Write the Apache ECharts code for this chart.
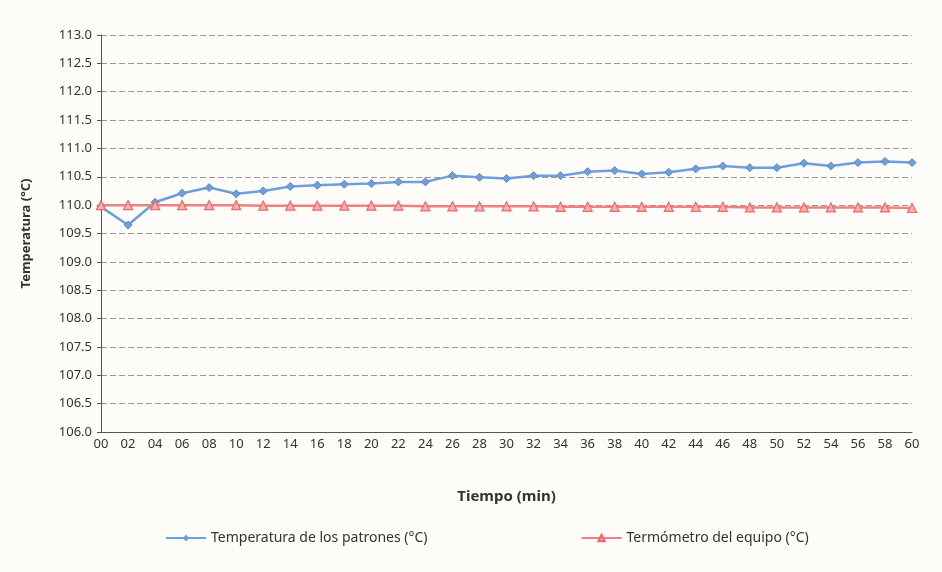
<!DOCTYPE html>
<html><head><meta charset="utf-8">
<script src="https://cdn.jsdelivr.net/npm/echarts@6/dist/echarts.min.js"></script>
<style>html,body{margin:0;padding:0;background:#fff}#c{width:942px;height:572px}</style>
</head><body><div id="c"></div>
<script>
const categories = ['00','02','04','06','08','10','12','14','16','18','20','22','24','26','28','30','32','34','36','38','40','42','44','46','48','50','52','54','56','58','60'];
const patrones = [109.97,109.65,110.05,110.21,110.31,110.20,110.25,110.33,110.35,110.37,110.38,110.41,110.41,110.52,110.49,110.47,110.52,110.52,110.59,110.61,110.55,110.58,110.64,110.69,110.66,110.66,110.74,110.69,110.75,110.77,110.75];
const equipo = [110.0,110.0,110.0,110.0,110.0,110.0,109.99,109.99,109.99,109.99,109.99,109.99,109.98,109.98,109.98,109.98,109.98,109.97,109.97,109.97,109.97,109.97,109.97,109.97,109.96,109.96,109.96,109.96,109.96,109.96,109.95];
const seriesNames = ['Temperatura de los patrones (°C)','Termómetro del equipo (°C)'];
const FONT = "'Noto Sans',sans-serif";
const chart = echarts.init(document.getElementById('c'));
chart.setOption({
  backgroundColor: '#fdfcf8',
  animation: false,
  textStyle: {fontFamily: FONT},
  grid: {left: 101, right: 30, top: 35, bottom: 140},
  legend: {
    top: 526, left: 160, itemGap: 153, itemWidth: 40, itemHeight: 8,
    textStyle: {fontSize: 14, color: '#333', fontFamily: FONT},
    data: seriesNames
  },
  xAxis: {
    type: 'category', data: categories, boundaryGap: false,
    name: 'Tiempo (min)', nameLocation: 'middle', nameGap: 57,
    nameTextStyle: {fontSize: 15, fontWeight: 'bold', color: '#333', fontFamily: FONT},
    axisLine: {lineStyle: {color: '#555'}},
    axisTick: {show: false},
    axisLabel: {fontSize: 13, color: '#333', margin: 6, interval: 0}
  },
  yAxis: {
    type: 'value', min: 106, max: 113, interval: 0.5,
    name: 'Temperatura (°C)', nameLocation: 'middle', nameGap: 68, nameRotate: 90,
    nameTextStyle: {fontSize: 13, fontWeight: 'bold', color: '#333', fontFamily: FONT},
    axisLine: {show: true, lineStyle: {color: '#555'}},
    axisTick: {show: true, inside: false, length: 4, lineStyle: {color: '#555'}},
    axisLabel: {fontSize: 13, color: '#333', margin: 9, formatter: v => v.toFixed(1)},
    splitLine: {lineStyle: {color: '#9a9a9a', type: [6, 3], width: 1}}
  },
  series: [
    {name: seriesNames[0], type: 'line', data: patrones, symbol: 'diamond', symbolSize: 8,
     lineStyle: {color: '#6f9fd8', width: 2.5}, itemStyle: {color: '#6f9fd8', borderColor: '#5a8cc8'}},
    {name: seriesNames[1], type: 'line', data: equipo, symbol: 'triangle', symbolSize: 9,
     lineStyle: {color: '#ef7f80', width: 2.5}, itemStyle: {color: '#f6b0a8', borderColor: '#ea6a6c', borderWidth: 1.2}}
  ]
});
</script></body></html>
